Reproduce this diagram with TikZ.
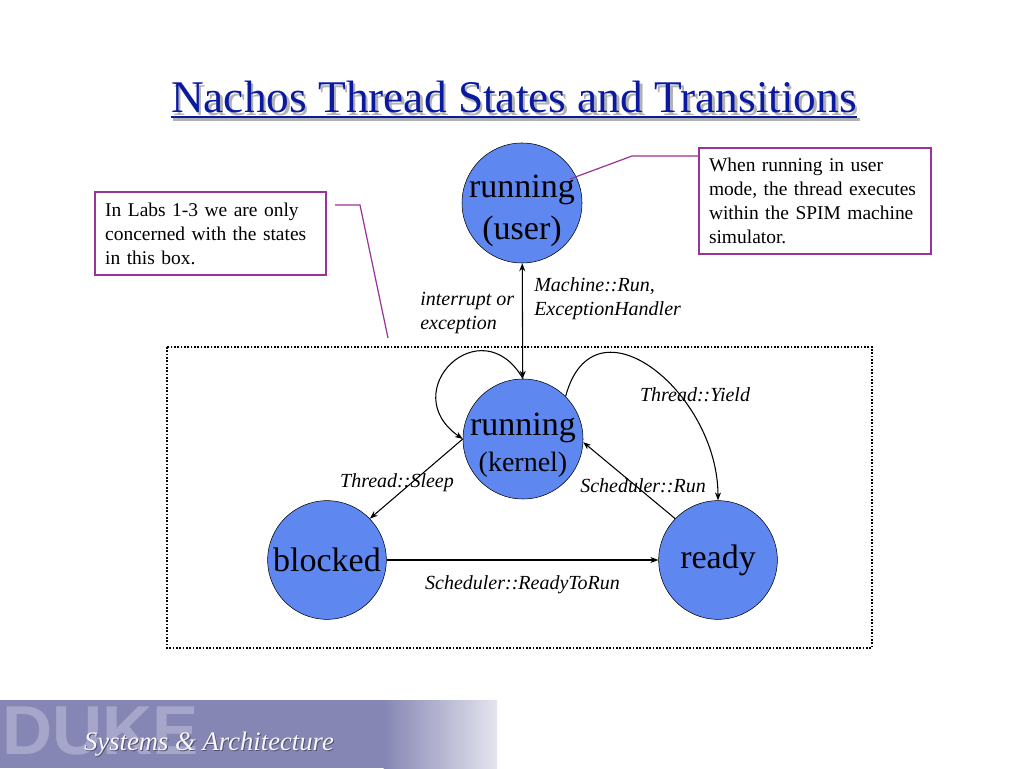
\documentclass[tikz,border=0pt]{standalone}
\usepackage{fontspec}
\setmainfont{Liberation Serif}
\newfontfamily\dukefont{Liberation Sans}
\usetikzlibrary{arrows.meta}
\definecolor{statefill}{RGB}{94,135,240}
\definecolor{titleblue}{RGB}{10,26,160}
\definecolor{notepurple}{RGB}{153,51,153}
\definecolor{bannerblue}{RGB}{134,134,180}
\definecolor{dukeletter}{RGB}{166,166,202}
\begin{document}
\begin{tikzpicture}
[x=0.75pt,y=0.75pt,>={Stealth[length=6pt,width=4.5pt]},
  statedecorate/.style={shape=circle,draw,fill=statefill,minimum size=90pt,inner sep=0pt,align=center,font=\fontsize{25.5}{31}\selectfont},%
  arrowdecorate/.style={->,line width=0.8pt},
  notedecorate/.style={draw=notepurple,line width=0.9pt,align=left,inner xsep=7.5pt,font=\fontsize{14.6}{18}\selectfont},
  calloutdecorate/.style={draw=notepurple,line width=0.9pt},
  labeldecorate/.style={inner sep=0pt,align=left,font=\fontsize{15}{18}\selectfont\itshape},
  boxdecorate/.style={line width=1.2pt,dash pattern=on 1.2pt off 1.3pt}]
\useasboundingbox (0,0) rectangle (1024,768);
\fill[white] (0,0) rectangle (1024,768);
%
%%% title
\node (titleshadow) at (516.5,652.5) [anchor=base,inner sep=0pt,text=black!30,font=\fontsize{34}{40}\selectfont] {Nachos Thread States and Transitions};
\draw[black!30,line width=2pt] ([yshift=-3pt]titleshadow.base west) -- ([yshift=-3pt]titleshadow.base east);
\node (title) at (514,655) [anchor=base,inner sep=0pt,text=titleblue,font=\fontsize{34}{40}\selectfont] {Nachos Thread States and Transitions};
\draw[titleblue,line width=2pt] ([yshift=-3pt]title.base west) -- ([yshift=-3pt]title.base east);
%
%%% the states in this box
\draw[boxdecorate] (167,421) rectangle (872,120);
%
%%% thread states
% nodes or vertices
\node (user) at (522,565) [statedecorate] {\raisebox{-11.7pt}[0pt][0pt]{\begin{tabular}{@{}c@{}}running\\(user)\end{tabular}}};
\node (kernel) at (523,329) [statedecorate] {\raisebox{-11pt}[0pt][0pt]{\begin{tabular}{@{}c@{}}running\\[-4.4pt]{\fontsize{21}{25}\selectfont(kernel)}\end{tabular}}};
\node (blocked) at (327,208) [statedecorate,minimum size=89pt] {blocked};
\node (ready) at (718,208) [statedecorate,minimum size=89pt] {ready};
% edges or transitions
\path
(user) edge[arrowdecorate,<->] (kernel)
(kernel.north) edge[arrowdecorate,out=120,in=145,looseness=2.5] (kernel.west)
(kernel.45) edge[arrowdecorate,out=75,in=90,looseness=1.5] (ready.north)
(kernel.west) edge[arrowdecorate] (blocked.44)
(ready.136) edge[arrowdecorate] (kernel.-3)
(blocked) edge[arrowdecorate] node (readytorunlabel) [labeldecorate,below=11pt] {Scheduler::ReadyToRun} (ready);
% transition labels
\node (interruptlabel) at (420,455) [labeldecorate,anchor=west] {interrupt or\\exception};
\node (machinelabel) at (534,469.5) [labeldecorate,anchor=west] {Machine::Run,\\ExceptionHandler};
\node (yieldlabel) at (695,373) [labeldecorate] {Thread::Yield};
\node (sleeplabel) at (397,285) [labeldecorate] {Thread::Sleep};
\node (runlabel) at (643,282) [labeldecorate] {Scheduler::Run};
%
%%% notes
\node (labsnote) at (210.5,534.5) [notedecorate,minimum width=173.25pt,minimum height=62.25pt,text width=158pt] {In Labs 1-3 we are only\\concerned with the states\\in this box.};
\coordinate (labsa) at (335,563);
\coordinate (labsb) at (360,563);
\coordinate (labstip) at (388,430);
\draw[calloutdecorate] (labsa) -- (labsb) -- (labstip);
\node (spimnote) at (815,567) [notedecorate,minimum width=174pt,minimum height=79.5pt,text width=159pt] {When running in user\\mode, the thread executes\\within the SPIM machine\\simulator.};
\coordinate (spimb) at (632,612);
\coordinate (spimtip) at (570,589);
\draw[calloutdecorate] (spimnote.west |- spimb) -- (spimb) -- (spimtip);
%
%%% banner
\fill[bannerblue] (0,0) rectangle (384,68);
\shade[left color=bannerblue,right color=bannerblue!22!white] (383.5,0) rectangle (497,68);
\node (duke) at (2,37.5) [anchor=west,inner sep=0pt,text=dukeletter,font=\dukefont\bfseries\fontsize{52}{52}\selectfont] {DUKE};
\node (bannershadow) at (210,16.5) [anchor=base,inner sep=0pt,text=bannerblue!60!black,font=\fontsize{20}{24}\selectfont\itshape] {Systems \& Architecture};
\node (bannertext) at (209,18) [anchor=base,inner sep=0pt,text=white!94!bannerblue,font=\fontsize{20}{24}\selectfont\itshape] {Systems \& Architecture};
\end{tikzpicture}
\end{document}
